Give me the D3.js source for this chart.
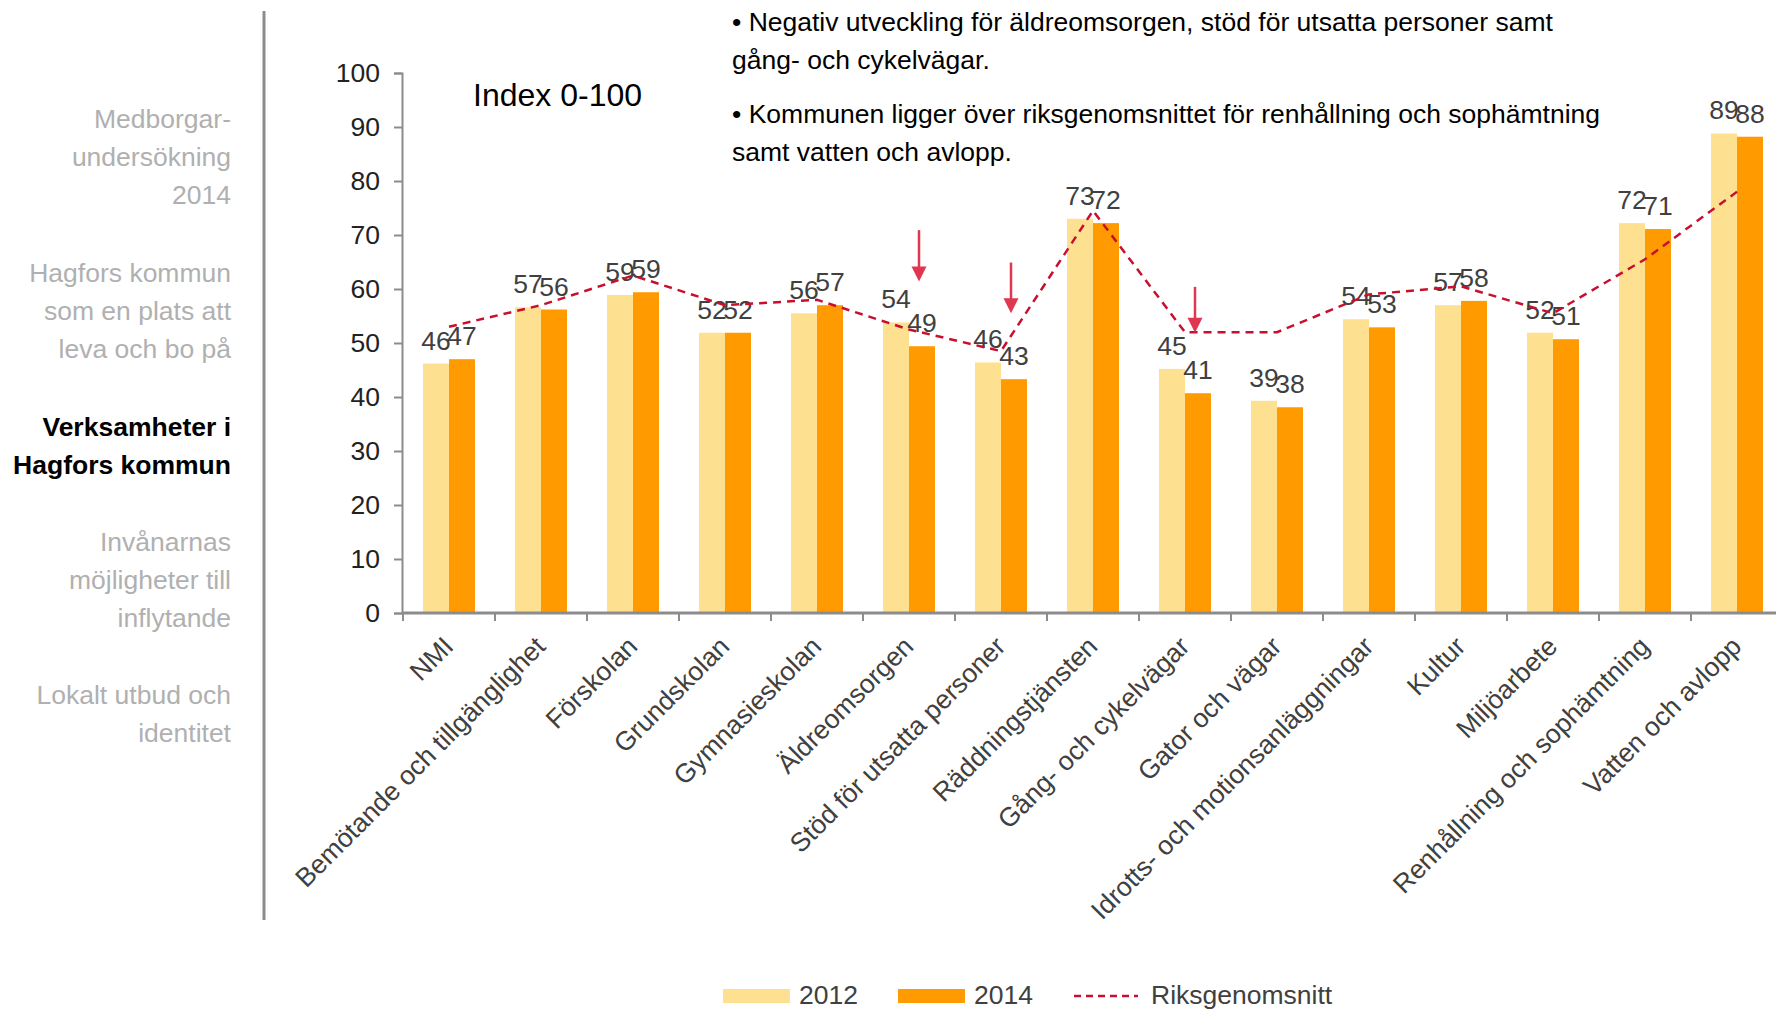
<!DOCTYPE html>
<html lang="sv">
  <head>
    <meta charset="UTF-8" />
    <title>Verksamheter i Hagfors kommun</title>
    <style>
      body { margin: 0; background: #fff; }
      svg text { font-family: "Liberation Sans", Arial, sans-serif; }
    </style>
  </head>
  <body>
    <svg id="chart" width="1776" height="1010"></svg>

    <script src="https://cdn.jsdelivr.net/npm/d3@7"></script>
    <script>
      // data
      const categories = [
        "NMI",
        "Bemötande och tillgänglighet",
        "Förskolan",
        "Grundskolan",
        "Gymnasieskolan",
        "Äldreomsorgen",
        "Stöd för utsatta personer",
        "Räddningstjänsten",
        "Gång- och cykelvägar",
        "Gator och vägar",
        "Idrotts- och motionsanläggningar",
        "Kultur",
        "Miljöarbete",
        "Renhållning och sophämtning",
        "Vatten och avlopp",
      ];
      const values2012 = [46.2, 56.6, 58.9, 51.9, 55.5, 53.8, 46.4, 73.0, 45.2, 39.3, 54.4, 57.0, 51.9, 72.2, 88.8];
      const values2014 = [47.0, 56.2, 59.4, 51.9, 57.0, 49.4, 43.3, 72.2, 40.7, 38.1, 52.9, 57.8, 50.7, 71.1, 88.2];
      const riks = [53, 57, 62.5, 57, 58, 52.5, 48.5, 74.5, 52, 52, 59, 60.5, 55.5, 65.5, 78];
      const yTicks = [0, 10, 20, 30, 40, 50, 60, 70, 80, 90, 100];
      const series = ["2012", "2014"];

      // red arrows: category, top value, tip value
      const arrowCats = ["Äldreomsorgen", "Stöd för utsatta personer", "Gång- och cykelvägar"];
      const arrowTop = [70.9, 64.9, 60.4];
      const arrowTip = [61.4, 55.5, 51.9];

      const navGroups = [
        ["Medborgar-", "undersökning", "2014"],
        ["Hagfors kommun", "som en plats att", "leva och bo på"],
        ["Verksamheter i", "Hagfors kommun"],
        ["Invånarnas", "möjligheter till", "inflytande"],
        ["Lokalt utbud och", "identitet"],
      ];
      const navTop = [119, 273, 427, 542, 695];
      const activeNav = 2;

      const notes = [
        ["• Negativ utveckling för äldreomsorgen, stöd för utsatta personer samt", "gång- och cykelvägar."],
        ["• Kommunen ligger över riksgenomsnittet för renhållning och sophämtning", "samt vatten och avlopp."],
      ];

      const colors = { "2012": "#fde190", "2014": "#ff9a00" };
      const lineColor = "#c8102e";
      const arrowColor = "#e0364f";
      const textColor = "#404040";
      const fs = 26.5;

      const svg = d3.select("#chart");

      // left navigation
      svg.append("line")
        .attr("x1", 264).attr("x2", 264)
        .attr("y1", 11).attr("y2", 920)
        .attr("stroke", "#8c8c8c").attr("stroke-width", 3);

      navGroups.forEach((lines, gi) => {
        lines.forEach((t, li) => {
          svg.append("text")
            .attr("x", 231)
            .attr("y", navTop[gi] + li * 38 + 9)
            .attr("text-anchor", "end")
            .attr("font-size", fs)
            .attr("font-weight", gi === activeNav ? "bold" : "normal")
            .attr("fill", gi === activeNav ? "#000" : "#b0b0b0")
            .text(t);
        });
      });

      // scales
      const x = d3.scaleBand().domain(categories).range([403, 1783]);
      const xSub = d3.scaleBand().domain(series).range([0, x.bandwidth()]).paddingOuter(0.77);
      const y = d3.scaleLinear().domain([0, 100]).range([613, 73]);

      // y axis
      const yAxis = svg.append("g")
        .attr("transform", "translate(402,0)")
        .call(d3.axisLeft(y).tickValues(yTicks).tickSize(8).tickPadding(14));
      yAxis.select(".domain").attr("stroke", "#8c8c8c").attr("stroke-width", 2);
      yAxis.selectAll(".tick line").attr("stroke", "#8c8c8c").attr("stroke-width", 2);
      yAxis.selectAll(".tick text")
        .attr("font-size", fs).attr("fill", "#222")
        .attr("font-family", "Liberation Sans, Arial, sans-serif");

      svg.append("text")
        .attr("x", 473).attr("y", 106)
        .attr("font-size", 32).attr("fill", "#000")
        .text("Index 0-100");

      // bars
      const rows = categories.map((c, i) => ({ cat: c, v: { "2012": values2012[i], "2014": values2014[i] } }));
      const groups = svg.append("g").selectAll("g")
        .data(rows).join("g")
        .attr("transform", (d) => `translate(${x(d.cat)},0)`);

      groups.selectAll("rect")
        .data((d) => series.map((s) => ({ s, v: d.v[s] })))
        .join("rect")
        .attr("x", (d) => xSub(d.s))
        .attr("width", xSub.bandwidth())
        .attr("y", (d) => y(d.v))
        .attr("height", (d) => y(0) - y(d.v))
        .attr("fill", (d) => colors[d.s]);

      groups.selectAll("text")
        .data((d) => series.map((s) => ({ s, v: d.v[s] })))
        .join("text")
        .attr("x", (d) => xSub(d.s) + xSub.bandwidth() / 2)
        .attr("y", (d) => y(d.v) - 14)
        .attr("text-anchor", "middle")
        .attr("font-size", fs)
        .attr("fill", textColor)
        .text((d) => Math.round(d.v));

      // x axis
      const xAxis = svg.append("g")
        .attr("transform", "translate(0,613)")
        .call(d3.axisBottom(x).tickSize(0).tickFormat(""));
      xAxis.select(".domain").attr("stroke", "#8c8c8c").attr("stroke-width", 3)
        .attr("d", "M402,0H1776");
      svg.append("g").selectAll("line")
        .data(categories).join("line")
        .attr("x1", (d) => x(d)).attr("x2", (d) => x(d))
        .attr("y1", 613).attr("y2", 621)
        .attr("stroke", "#8c8c8c").attr("stroke-width", 2);

      svg.append("g").selectAll("text")
        .data(categories).join("text")
        .attr("transform", (d) => `translate(${x(d) + x.bandwidth() / 2 + 6},648) rotate(-45)`)
        .attr("text-anchor", "end")
        .attr("font-size", fs)
        .attr("fill", textColor)
        .text((d) => d);

      // riksgenomsnitt line
      const line = d3.line()
        .x((d, i) => x(categories[i]) + x.bandwidth() / 2)
        .y((d) => y(d));
      svg.append("path")
        .datum(riks)
        .attr("d", line)
        .attr("fill", "none")
        .attr("stroke", lineColor)
        .attr("stroke-width", 2.5)
        .attr("stroke-dasharray", "8,6");

      // arrows
      arrowCats.forEach((c, i) => {
        const ax = x(c) + x.bandwidth() / 2 + 10;
        const tip = y(arrowTip[i]);
        svg.append("line")
          .attr("x1", ax).attr("x2", ax)
          .attr("y1", y(arrowTop[i])).attr("y2", tip - 10)
          .attr("stroke", arrowColor).attr("stroke-width", 2.5);
        svg.append("path")
          .attr("d", `M${ax - 7.5},${tip - 15}L${ax + 7.5},${tip - 15}L${ax},${tip}Z`)
          .attr("fill", arrowColor);
      });

      // notes
      const noteTop = [21.5, 114.4];
      notes.forEach((lines, ni) => {
        lines.forEach((t, li) => {
          svg.append("text")
            .attr("x", 732)
            .attr("y", noteTop[ni] + li * 38 + 9)
            .attr("font-size", fs)
            .attr("fill", "#000")
            .text(t);
        });
      });

      // legend (sits right at the bottom edge, as on the slide)
      const legend = svg.append("g").attr("transform", "translate(0,995)");
      series.forEach((s, i) => {
        const lx = 723 + i * 175;
        legend.append("rect")
          .attr("x", lx).attr("y", -6).attr("width", 67).attr("height", 14)
          .attr("fill", colors[s]);
        legend.append("text")
          .attr("x", lx + 76).attr("y", 9)
          .attr("font-size", fs).attr("fill", textColor)
          .text(s);
      });
      legend.append("line")
        .attr("x1", 1074).attr("x2", 1138).attr("y1", 1).attr("y2", 1)
        .attr("stroke", lineColor).attr("stroke-width", 2.5)
        .attr("stroke-dasharray", "7,5");
      legend.append("text")
        .attr("x", 1151).attr("y", 9)
        .attr("font-size", fs).attr("fill", textColor)
        .text("Riksgenomsnitt");
    </script>
  </body>
</html>
